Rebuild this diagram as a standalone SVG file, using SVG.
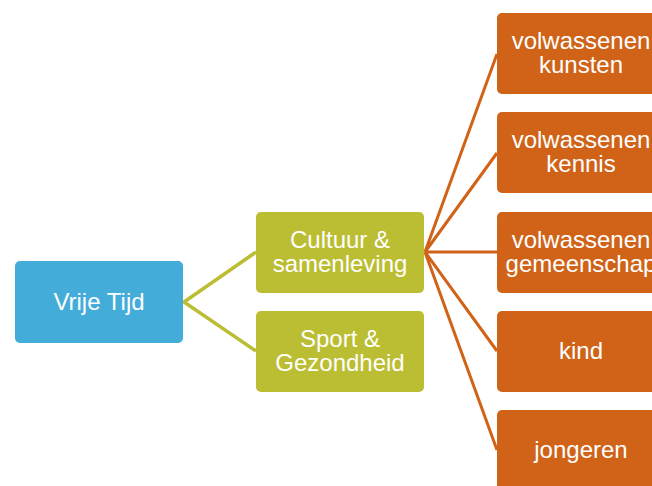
<svg xmlns="http://www.w3.org/2000/svg" width="652" height="486" viewBox="0 0 652 486">
<style>
.t{font-family:"Liberation Sans",Arial,sans-serif;font-size:24px;fill:#fff;text-anchor:middle}
.g{fill:#BBBD32}
.o{fill:#D06318}
.lg{stroke:#BBBD32;stroke-width:3.5;fill:none}
.lo{stroke:#D06318;stroke-width:3;fill:none}
</style>
<rect width="652" height="486" fill="#fff"/>
<g id="connectors">
<path class="lg" d="M256,252 L184,302 L256,351"/>
<path class="lo" d="M497,54 L425,252 M497,153 L425,252 M497,252 L425,252 M497,351 L425,252 M497,450 L425,252"/>
</g>
<g id="n-vrije"><rect x="15" y="261" width="168" height="82" rx="5" fill="#43ACD8"/><text class="t" x="99" y="310">Vrije Tijd</text></g>
<g id="n-cultuur"><rect class="g" x="256" y="212" width="168" height="81" rx="5"/><text class="t" x="340" y="248">Cultuur &amp;</text><text class="t" x="340" y="272">samenleving</text></g>
<g id="n-sport"><rect class="g" x="256" y="311" width="168" height="81" rx="5"/><text class="t" x="340" y="347">Sport &amp;</text><text class="t" x="340" y="371">Gezondheid</text></g>
<g id="n-kunsten"><rect class="o" x="497" y="13" width="168" height="81" rx="5"/><text class="t" x="581" y="49">volwassenen</text><text class="t" x="581" y="73">kunsten</text></g>
<g id="n-kennis"><rect class="o" x="497" y="112" width="168" height="81" rx="5"/><text class="t" x="581" y="148">volwassenen</text><text class="t" x="581" y="172">kennis</text></g>
<g id="n-gemeenschap"><rect class="o" x="497" y="212" width="168" height="81" rx="5"/><text class="t" x="581" y="248">volwassenen</text><text class="t" x="581" y="272">gemeenschap</text></g>
<g id="n-kind"><rect class="o" x="497" y="311" width="168" height="81" rx="5"/><text class="t" x="581" y="359">kind</text></g>
<g id="n-jongeren"><rect class="o" x="497" y="410" width="168" height="81" rx="5"/><text class="t" x="581" y="458">jongeren</text></g>
</svg>
